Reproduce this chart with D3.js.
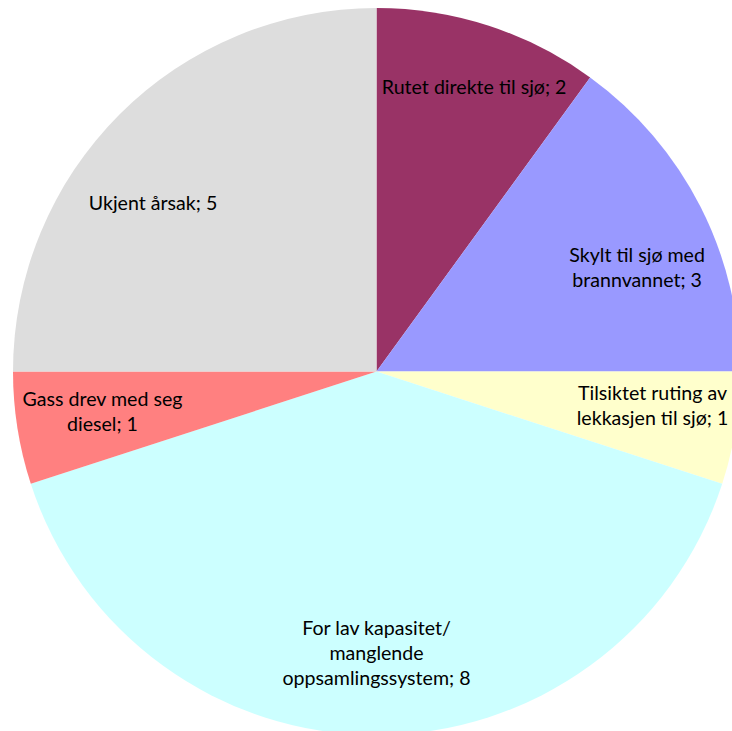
<!DOCTYPE html>
<html>
<head>
<meta charset="utf-8">
<script src="https://cdn.jsdelivr.net/npm/d3@7"></script>
<style>
  body { margin: 0; background: #fff; }
  svg { display: block; }
  .label { font-family: Lato, "Open Sans", sans-serif; font-size: 19.6px; fill: #000; }
</style>
</head>
<body>
<svg class="pie_chart"></svg>
<script>
const width = 732, height = 731;

// data, clockwise from 12 o'clock
var categories = ["Rutet direkte til sjø", "Skylt til sjø med brannvannet", "Tilsiktet ruting av lekkasjen til sjø",
                  "For lav kapasitet/manglende oppsamlingssystem", "Gass drev med seg diesel", "Ukjent årsak"];
var values = [2, 3, 1, 8, 1, 5];
// how each label is broken into lines
var labelLines = [
  ["Rutet direkte til sjø; 2"],
  ["Skylt til sjø med", "brannvannet; 3"],
  ["Tilsiktet ruting av", "lekkasjen til sjø; 1"],
  ["For lav kapasitet/", "manglende", "oppsamlingssystem; 8"],
  ["Gass drev med seg", "diesel; 1"],
  ["Ukjent årsak; 5"]
];
var colors = ["#993366", "#9999FF", "#FFFFCC", "#CCFFFF", "#FF8080", "#DDDDDD"];

// label nudges (px) from the arc centroid, Excel puts them a bit off-centre
var nudge = [[10, -15], [8, 25], [-4, -10], [0, -2], [6, -4], [-23, 32]];

var cx = 376.5, cy = 371.5, radius = 363.5;
var lineHeight = 25.3;

var data = categories.map((c, i) => ({name: c, value: values[i], lines: labelLines[i], i: i}));

var svg = d3.select('.pie_chart')
            .attr('width', width)
            .attr('height', height);

var chart = svg.append('g')
               .attr('transform', 'translate(' + cx + ',' + cy + ')');

var pie = d3.pie().value((d) => d.value).sort(null);
var arcs = pie(data);

var arc = d3.arc().innerRadius(0).outerRadius(radius);
var labelArc = d3.arc().innerRadius(radius * 0.78).outerRadius(radius * 0.78);

var color = d3.scaleOrdinal().domain(categories).range(colors);

chart.selectAll('path')
     .data(arcs)
     .enter()
     .append('path')
       .attr('d', arc)
       .attr('fill', (d) => color(d.data.name));

var labels = chart.selectAll('.label')
     .data(arcs)
     .enter()
     .append('text')
       .attr('class', 'label')
       .attr('text-anchor', 'middle')
       .attr('transform', (d) => {
         var c = labelArc.centroid(d);
         var n = nudge[d.data.i];
         return 'translate(' + (c[0] + n[0]) + ',' + (c[1] + n[1]) + ')';
       });

labels.selectAll('tspan')
      .data((d) => d.data.lines.map((l, k) => ({text: l, k: k, n: d.data.lines.length})))
      .enter()
      .append('tspan')
        .attr('x', 0)
        .attr('y', (d) => (d.k - (d.n - 1) / 2) * lineHeight + 7)
        .text((d) => d.text);
</script>
</body>
</html>
